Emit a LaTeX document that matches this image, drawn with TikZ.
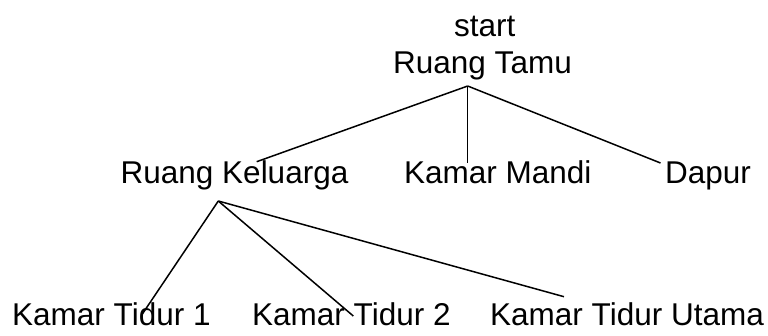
\documentclass[tikz,border=0pt]{standalone}
\usepackage{fontspec}
\setmainfont{Liberation Sans}
\begin{document}
\begin{tikzpicture}[x=1pt,y=-1pt,
  label/.style={inner sep=0pt,anchor=base west,font=\fontsize{31.5}{37}\selectfont},
  edge/.style={line width=1.5pt}]
\useasboundingbox (0,0) rectangle (768,335);

% nodes
\node[label] (st)  at (454,36)  {start};
\node[label] (rt)  at (393,73)  {Ruang Tamu};
\node[label] (rk)  at (120.5,183) {Ruang Keluarga};
\node[label] (km)  at (404,183) {Kamar Mandi};
\node[label] (dp)  at (665,183) {Dapur};
\node[label] (kt1) at (12,325)  {Kamar Tidur 1};
\node[label] (kt2) at (252,325) {Kamar Tidur 2};
\node[label] (ktu) at (490,325) {Kamar Tidur Utama};

% connector end points
\coordinate (rt-out)  at (467.7,86);
\coordinate (rk-in)   at (256.7,161.7);
\coordinate (km-in)   at (467.7,163.3);
\coordinate (dp-in)   at (660.5,163);
\coordinate (rk-out)  at (218.3,201);
\coordinate (kt1-in)  at (142,314.5);
\coordinate (kt2-in)  at (353.3,316);
\coordinate (ktu-in)  at (564,296.7);

% connectors
\draw[edge] (rt-out) -- (rk-in);
\draw[edge] (rt-out) -- (km-in);
\draw[edge] (rt-out) -- (dp-in);
\draw[edge] (rk-out) -- (kt1-in);
\draw[edge] (rk-out) -- (kt2-in);
\draw[edge] (rk-out) -- (ktu-in);
\end{tikzpicture}
\end{document}
